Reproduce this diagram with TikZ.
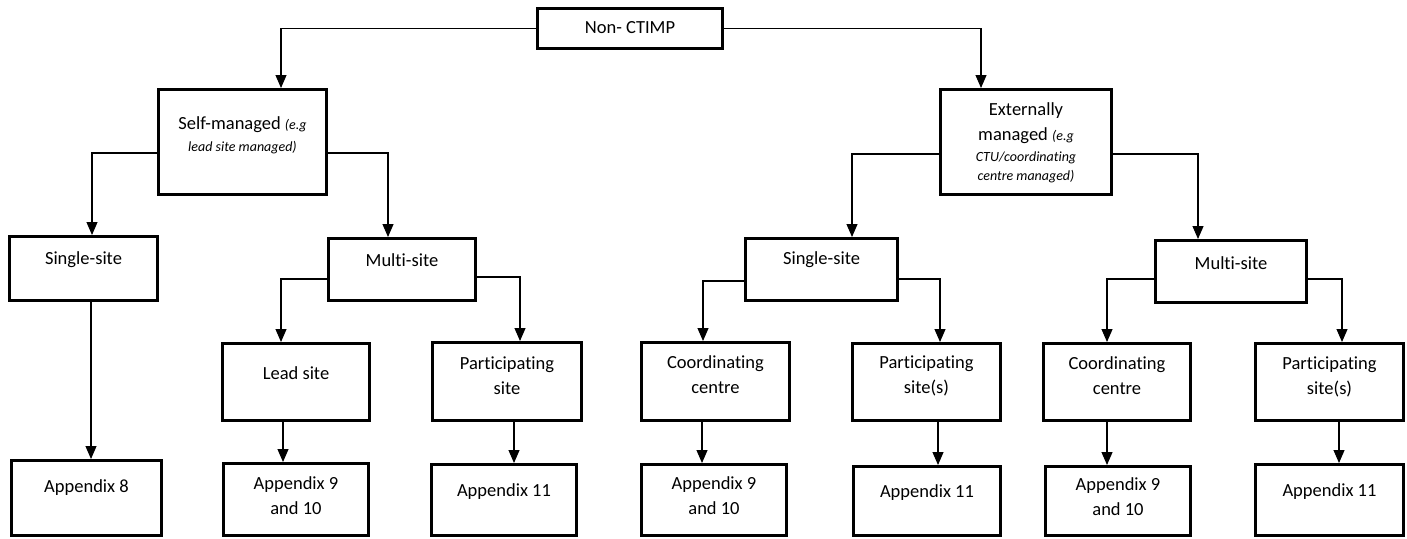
\documentclass[tikz,border=0pt]{standalone}
\usepackage{fontspec}
\setmainfont[Ligatures=NoCommon]{Carlito}
\usetikzlibrary{arrows.meta}
\tikzset{
  box/.style={draw, line width=3pt, inner sep=0pt},
  conn/.style={line width=1.1pt, -{Triangle[width=11pt,length=13pt]}},
  txt/.style={align=center, inner sep=0pt, font=\fontsize{18.5}{25}\selectfont},
}
\newcommand\mybox[5]{\node[box, minimum width={(#4-#2-3)*1pt}, minimum height={(#5-#3-3)*1pt}] (#1) at ({(#2+#4)/2},{(#3+#5)/2}) {};}
\newcommand\smit[1]{{\fontsize{14}{20}\selectfont\itshape #1}}
\begin{document}
\begin{tikzpicture}[x=1pt,y=-1pt]
\useasboundingbox (0,0) rectangle (1407,538);
% boxes: name, left, top, right, bottom
\mybox{nct}{536}{7}{724}{50}
\mybox{self}{157}{88}{328}{196}
\mybox{ext}{939}{88}{1113}{196}
\mybox{ssa}{8}{235}{159}{302}
\mybox{msa}{327}{237}{477}{302}
\mybox{ssb}{744}{237}{899}{302}
\mybox{msb}{1154}{239}{1308}{304}
\mybox{lead}{221}{342}{371}{422}
\mybox{parta}{431}{341}{583}{422}
\mybox{coorda}{640}{341}{791}{422}
\mybox{partb}{851}{342}{1002}{422}
\mybox{coordb}{1042}{342}{1192}{422}
\mybox{partc}{1254}{342}{1405}{422}
\mybox{appe}{10}{459}{163}{537}
\mybox{appna}{222}{462}{370}{537}
\mybox{appea}{430}{463}{578}{537}
\mybox{appnb}{640}{463}{788}{537}
\mybox{appeb}{852}{465}{1002}{537}
\mybox{appnc}{1044}{465}{1192}{537}
\mybox{appec}{1254}{463}{1405}{537}
% texts
\node[txt] (t-nct) at (630,28) {Non- CTIMP};
\node[txt] (t-self) at (242.5,135) {Self-managed \smit{(e.g}\\[-3pt]\smit{lead site managed)}};
\node[txt] (t-ext) at (1026,143) {Externally\\ managed \smit{(e.g}\\[-4pt]\smit{CTU/coordinating}\\[-6pt]\smit{centre managed)}};
\node[txt] (t-ssa) at (83.5,260) {Single-site};
\node[txt] (t-msa) at (402,260) {Multi-site};
\node[txt] (t-ssb) at (821.5,260) {Single-site};
\node[txt] (t-msb) at (1231,263) {Multi-site};
\node[txt] (t-lead) at (296,373) {Lead site};
\node[txt] (t-parta) at (507,376) {Participating\\site};
\node[txt] (t-coorda) at (715.5,375) {Coordinating\\centre};
\node[txt] (t-partb) at (926.5,376) {Participating\\site(s)};
\node[txt] (t-coordb) at (1117,376) {Coordinating\\centre};
\node[txt] (t-partc) at (1329.5,377) {Participating\\site(s)};
\node[txt] (t-appe) at (86.5,488) {Appendix 8};
\node[txt] (t-appna) at (296,496) {Appendix 9\\and 10};
\node[txt] (t-appea) at (504,492) {Appendix 11};
\node[txt] (t-appnb) at (714,496) {Appendix 9\\and 10};
\node[txt] (t-appeb) at (927,493) {Appendix 11};
\node[txt] (t-appnc) at (1118,497) {Appendix 9\\and 10};
\node[txt] (t-appec) at (1329.5,492) {Appendix 11};
% connectors
\draw[conn] (nct.west) -| (281,0 |- self.north);
\draw[conn] (nct.east) -| (981,0 |- ext.north);
\draw[conn] (self.west |- 0,153) -| (92,0 |- ssa.north);
\draw[conn] (self.east |- 0,153) -| (388,0 |- msa.north);
\draw[conn] (ext.west |- 0,154) -| (852,0 |- ssb.north);
\draw[conn] (ext.east |- 0,154) -| (1198,0 |- msb.north);
\draw[conn] (ssa.south -| 91,0) -- (91,0 |- appe.north);
\draw[conn] (msa.west |- 0,279) -| (281,0 |- lead.north);
\draw[conn] (msa.east |- 0,277) -| (520,0 |- parta.north);
\draw[conn] (lead.south -| 283,0) -- (283,0 |- appna.north);
\draw[conn] (parta.south -| 514,0) -- (514,0 |- appea.north);
\draw[conn] (ssb.west |- 0,281) -| (703,0 |- coorda.north);
\draw[conn] (ssb.east |- 0,279) -| (940,0 |- partb.north);
\draw[conn] (coorda.south -| 702,0) -- (702,0 |- appnb.north);
\draw[conn] (partb.south -| 938,0) -- (938,0 |- appeb.north);
\draw[conn] (msb.west |- 0,279) -| (1107,0 |- coordb.north);
\draw[conn] (msb.east |- 0,279) -| (1342,0 |- partc.north);
\draw[conn] (coordb.south -| 1107,0) -- (1107,0 |- appnc.north);
\draw[conn] (partc.south -| 1339,0) -- (1339,0 |- appec.north);
\end{tikzpicture}
\end{document}
